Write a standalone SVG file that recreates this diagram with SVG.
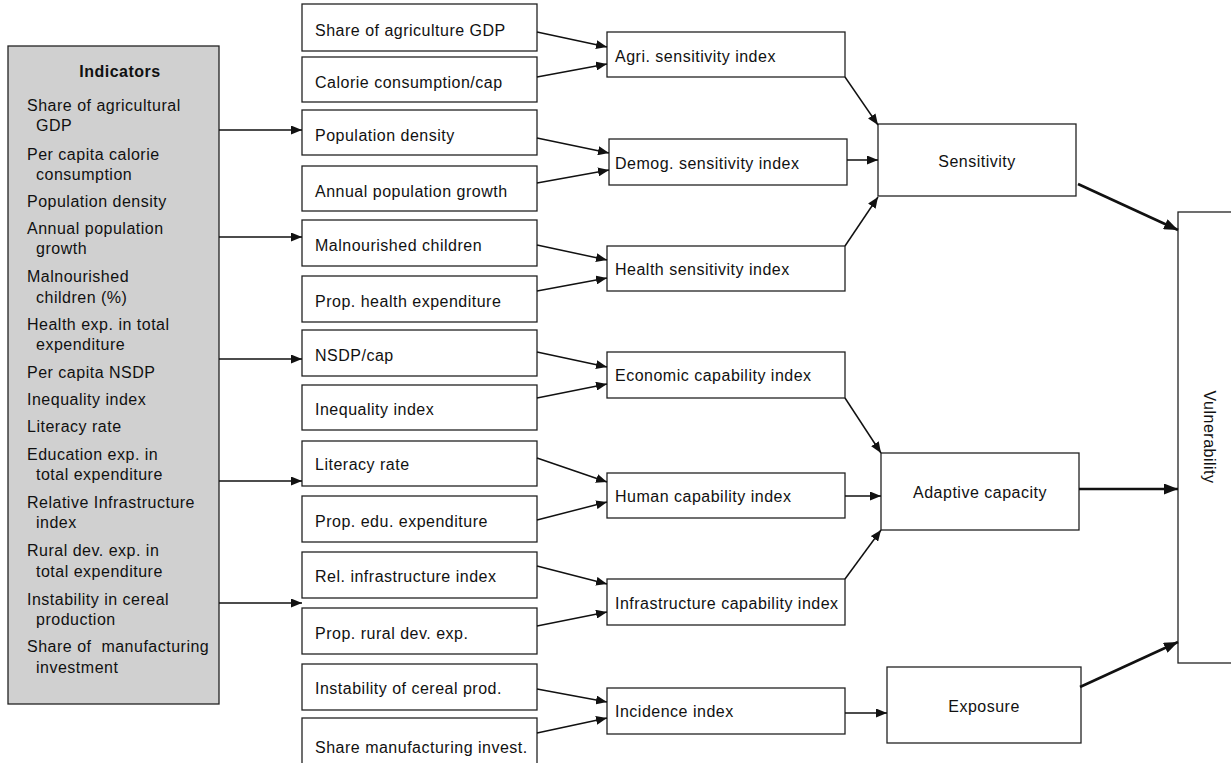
<svg xmlns="http://www.w3.org/2000/svg" width="1231" height="763" viewBox="0 0 1231 763">
<style>
text{font-family:"Liberation Sans",Arial,sans-serif;font-size:16px;letter-spacing:0.5px;fill:#111}
.b{fill:#fff;stroke:#222;stroke-width:1.3}
.ind{fill:#d0d0d0;stroke:#222;stroke-width:1.3}
.bold{font-weight:bold}
.c{text-anchor:middle}
.ln{stroke:#111;stroke-width:1.5;fill:none;marker-end:url(#ah)}
.lt{stroke:#111;stroke-width:2.6;fill:none;marker-end:url(#aht)}
</style>
<defs>
<marker id="ah" markerUnits="userSpaceOnUse" markerWidth="11" markerHeight="9" refX="11" refY="4.5" orient="auto"><path d="M0,0 L11,4.5 L0,9 z" fill="#111"/></marker>
<marker id="aht" markerUnits="userSpaceOnUse" markerWidth="14" markerHeight="11" refX="14" refY="5.5" orient="auto"><path d="M0,0 L14,5.5 L0,11 z" fill="#111"/></marker>
</defs>

<g id="indicators">
<rect class="ind" x="8" y="46" width="211" height="658"/>
<text class="bold c" x="120" y="77">Indicators</text>
<text x="27" y="111">Share of agricultural</text>
<text x="36" y="131">GDP</text>
<text x="27" y="160">Per capita calorie</text>
<text x="36" y="180">consumption</text>
<text x="27" y="207">Population density</text>
<text x="27" y="234">Annual population</text>
<text x="36" y="254">growth</text>
<text x="27" y="282">Malnourished</text>
<text x="36" y="303">children (%)</text>
<text x="27" y="330">Health exp. in total</text>
<text x="36" y="350">expenditure</text>
<text x="27" y="378">Per capita NSDP</text>
<text x="27" y="405">Inequality index</text>
<text x="27" y="432">Literacy rate</text>
<text x="27" y="460">Education exp. in</text>
<text x="36" y="480">total expenditure</text>
<text x="27" y="508">Relative Infrastructure</text>
<text x="36" y="528">index</text>
<text x="27" y="556">Rural dev. exp. in</text>
<text x="36" y="577">total expenditure</text>
<text x="27" y="605">Instability in cereal</text>
<text x="36" y="625">production</text>
<text x="27" y="652" xml:space="preserve">Share of  manufacturing</text>
<text x="36" y="673">investment</text>
</g>

<g id="in1"><rect class="b" x="302" y="4" width="235" height="47"/><text x="315" y="36">Share of agriculture GDP</text></g>
<g id="in2"><rect class="b" x="302" y="57" width="235" height="45"/><text x="315" y="88">Calorie consumption/cap</text></g>
<g id="in3"><rect class="b" x="302" y="110" width="235" height="45"/><text x="315" y="141">Population density</text></g>
<g id="in4"><rect class="b" x="302" y="166" width="235" height="45"/><text x="315" y="197">Annual population growth</text></g>
<g id="in5"><rect class="b" x="302" y="220" width="235" height="46"/><text x="315" y="251">Malnourished children</text></g>
<g id="in6"><rect class="b" x="302" y="276" width="235" height="46"/><text x="315" y="307">Prop. health expenditure</text></g>
<g id="in7"><rect class="b" x="302" y="330" width="235" height="46"/><text x="315" y="361">NSDP/cap</text></g>
<g id="in8"><rect class="b" x="302" y="385" width="235" height="45"/><text x="315" y="415">Inequality index</text></g>
<g id="in9"><rect class="b" x="302" y="441" width="235" height="45"/><text x="315" y="470">Literacy rate</text></g>
<g id="in10"><rect class="b" x="302" y="496" width="235" height="46"/><text x="315" y="527">Prop. edu. expenditure</text></g>
<g id="in11"><rect class="b" x="302" y="552" width="235" height="46"/><text x="315" y="582">Rel. infrastructure index</text></g>
<g id="in12"><rect class="b" x="302" y="608" width="235" height="46"/><text x="315" y="639">Prop. rural dev. exp.</text></g>
<g id="in13"><rect class="b" x="302" y="664" width="235" height="46"/><text x="315" y="694">Instability of cereal prod.</text></g>
<g id="in14"><rect class="b" x="302" y="718" width="235" height="47"/><text x="315" y="753">Share manufacturing invest.</text></g>

<g id="agri"><rect class="b" x="607" y="32" width="238" height="45"/><text x="615" y="62">Agri. sensitivity index</text></g>
<g id="demog"><rect class="b" x="609" y="139" width="238" height="46"/><text x="615" y="169">Demog. sensitivity index</text></g>
<g id="health"><rect class="b" x="607" y="246" width="238" height="45"/><text x="615" y="275">Health sensitivity index</text></g>
<g id="econ"><rect class="b" x="607" y="352" width="238" height="46"/><text x="615" y="381">Economic capability index</text></g>
<g id="human"><rect class="b" x="607" y="473" width="238" height="45"/><text x="615" y="502">Human capability index</text></g>
<g id="infra"><rect class="b" x="607" y="579" width="238" height="46"/><text x="615" y="609">Infrastructure capability index</text></g>
<g id="incid"><rect class="b" x="607" y="688" width="238" height="46"/><text x="615" y="717">Incidence index</text></g>

<g id="sensitivity"><rect class="b" x="878" y="124" width="198" height="72"/><text class="c" x="977" y="167">Sensitivity</text></g>
<g id="adaptive"><rect class="b" x="881" y="453" width="198" height="77"/><text class="c" x="980" y="498">Adaptive capacity</text></g>
<g id="exposure"><rect class="b" x="887" y="667" width="194" height="76"/><text class="c" x="984" y="712">Exposure</text></g>
<g id="vulnerability"><rect class="b" x="1178" y="212" width="60" height="451"/><text class="c" x="1204" y="437" transform="rotate(90 1204 437)" dy="0">Vulnerability</text></g>

<g id="connectors">
<line class="ln" x1="219" y1="130" x2="302" y2="130"/>
<line class="ln" x1="219" y1="237" x2="302" y2="237"/>
<line class="ln" x1="219" y1="359" x2="302" y2="359"/>
<line class="ln" x1="219" y1="481" x2="302" y2="481"/>
<line class="ln" x1="219" y1="603" x2="302" y2="603"/>

<line class="ln" x1="537" y1="32" x2="607" y2="47"/>
<line class="ln" x1="537" y1="77" x2="607" y2="64"/>
<line class="ln" x1="537" y1="138" x2="609" y2="153"/>
<line class="ln" x1="537" y1="183" x2="609" y2="170"/>
<line class="ln" x1="537" y1="245" x2="607" y2="260"/>
<line class="ln" x1="537" y1="291" x2="607" y2="278"/>
<line class="ln" x1="537" y1="352" x2="607" y2="367"/>
<line class="ln" x1="537" y1="398" x2="607" y2="384"/>
<line class="ln" x1="537" y1="458" x2="607" y2="482"/>
<line class="ln" x1="537" y1="520" x2="607" y2="502"/>
<line class="ln" x1="537" y1="566" x2="607" y2="584"/>
<line class="ln" x1="537" y1="626" x2="607" y2="612"/>
<line class="ln" x1="537" y1="689" x2="607" y2="702"/>
<line class="ln" x1="537" y1="733" x2="607" y2="718"/>

<line class="ln" x1="845" y1="77" x2="878" y2="125"/>
<line class="ln" x1="847" y1="160" x2="878" y2="160"/>
<line class="ln" x1="845" y1="246" x2="878" y2="197"/>
<line class="ln" x1="845" y1="398" x2="881" y2="453"/>
<line class="ln" x1="845" y1="496" x2="881" y2="496"/>
<line class="ln" x1="845" y1="579" x2="881" y2="530"/>
<line class="ln" x1="845" y1="713" x2="887" y2="713"/>

<line class="lt" x1="1078" y1="184" x2="1178" y2="230"/>
<line class="lt" x1="1079" y1="489" x2="1178" y2="489"/>
<line class="lt" x1="1080" y1="687" x2="1178" y2="642"/>
</g>
</svg>
